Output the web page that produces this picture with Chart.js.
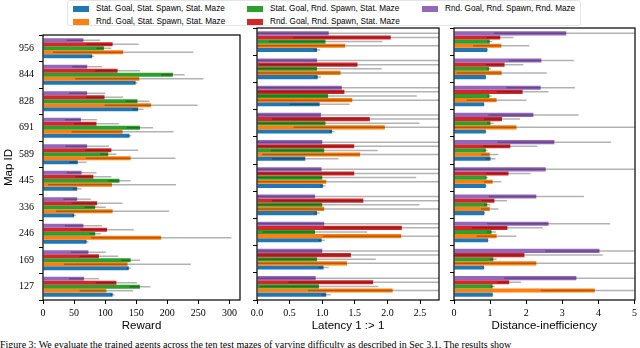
<!DOCTYPE html>
<html>
<head>
<meta charset="utf-8">
<script src="https://cdn.jsdelivr.net/npm/chart.js@4/dist/chart.umd.min.js"></script>
<style>
  body { margin: 0; width: 640px; height: 348px; overflow: hidden; position: relative; background: #fff;
         font-family: 'Liberation Sans', sans-serif; color: #000; }
  .panel { position: absolute; top: 24px; }
  #legend { position: absolute; left: 67px; top: 0px; width: 514px; height: 26px;
            border: 1px solid #e4e4e4; border-radius: 3px; box-sizing: border-box; }
  .item { position: absolute; font-size: 8.2px; line-height: 9px; white-space: nowrap; }
  .item span { display: inline-block; width: 16px; height: 6px; vertical-align: -0.5px; margin-right: 7px; }
  #caption { position: absolute; left: 0; top: 339px; width: 640px; font-family: 'Liberation Serif', serif;
             font-size: 10px; line-height: 12px; white-space: nowrap; overflow: hidden; }
</style>
</head>
<body>
<div id="legend"></div>
<div class="panel" style="left:0px"><canvas id="chartReward" width="244" height="312"></canvas></div>
<div class="panel" style="left:247px"><canvas id="chartLatency" width="196" height="312"></canvas></div>
<div class="panel" style="left:444px"><canvas id="chartDistance" width="196" height="312"></canvas></div>
<div id="caption">Figure 3: We evaluate the trained agents across the ten test mazes of varying difficulty as described in Sec 3.1. The results show</div>
<script>
// map ids, top to bottom
const mapIds = ['956', '844', '828', '691', '589', '445', '336', '246', '169', '127'];

// legend order
const seriesNames = [
    'Stat. Goal, Stat. Spawn, Stat. Maze',
    'Rnd. Goal, Stat. Spawn, Stat. Maze',
    'Stat. Goal, Rnd. Spawn, Stat. Maze',
    'Rnd. Goal, Rnd. Spawn, Stat. Maze',
    'Rnd. Goal, Rnd. Spawn, Rnd. Maze'
];
const seriesColors = ['#1f77b4', '#ff7f0e', '#2ca02c', '#d62728', '#9467bd'];

// Reward
const rewardSSS    = [79, 149, 153, 139, 56, 55, 50, 70, 138, 112];
const rewardSSSErr = [3, 3, 9, 3, 14, 7, 3, 3, 3, 3];
const rewardRSS    = [129, 155, 174, 128, 141, 111, 112, 190, 136, 102];
const rewardRSSErr = [113, 103, 75, 82, 72, 103, 91, 113, 102, 43];
const rewardSRS    = [98, 209, 152, 156, 105, 123, 84, 84, 141, 156];
const rewardSRSErr = [12, 19, 19, 21, 13, 18, 17, 9, 15, 17];
const rewardRRS    = [112, 120, 99, 86, 110, 81, 87, 103, 90, 118];
const rewardRRSErr = [42, 36, 30, 36, 43, 29, 41, 43, 31, 33];
const rewardRRR    = [65, 71, 71, 61, 71, 62, 55, 65, 73, 66];
const rewardRRRErr = [27, 24, 29, 26, 35, 24, 22, 30, 28, 24];

// Latency 1 :> 1
const latencySSS    = [0.92, 0.93, 0.96, 1.15, 0.74, 1.01, 0.92, 0.99, 1.02, 1.06];
const latencySSSErr = [0.05, 0.05, 0.46, 0.04, 0.51, 0.04, 0.04, 0.05, 0.08, 0.07];
const latencyRSS    = [1.35, 1.28, 1.46, 1.96, 1.58, 1.06, 1.03, 2.21, 1.38, 2.08];
const latencyRSSErr = [1.6, 1.7, 1.5, 1.4, 1.5, 1.9, 1.9, 1.2, 1.6, 1.3];
const latencySRS    = [1.05, 0.92, 1.09, 1.05, 1.03, 1.00, 1.00, 0.89, 0.92, 0.95];
const latencySRSErr = [0.87, 0.99, 1.36, 1.44, 0.82, 1.44, 1.49, 0.80, 0.90, 0.91];
const latencyRRS    = [2.05, 1.54, 1.34, 1.73, 1.49, 1.49, 1.63, 2.22, 1.44, 1.78];
const latencyRRSErr = [1.5, 1.5, 1.6, 1.5, 1.5, 1.5, 1.4, 1.2, 1.5, 1.3];
const latencyRRR    = [1.10, 0.92, 1.30, 0.98, 1.00, 0.99, 0.89, 1.03, 1.00, 0.90];
const latencyRRRErr = [2.0, 2.0, 1.6, 2.0, 2.0, 2.0, 2.0, 1.9, 2.0, 2.0];

// Distance-inefficiency
const distanceSSS    = [0.92, 0.88, 0.83, 0.88, 1.01, 0.88, 0.84, 0.94, 0.83, 1.07];
const distanceSSSErr = [0.02, 0.02, 0.02, 0.02, 0.14, 0.02, 0.02, 0.02, 0.02, 0.02];
const distanceRSS    = [1.31, 1.32, 1.18, 1.73, 0.99, 1.07, 0.99, 1.18, 2.28, 3.90];
const distanceRSSErr = [0.78, 1.25, 0.83, 3.5, 0.24, 0.24, 0.24, 0.55, 3.0, 1.5];
const distanceSRS    = [0.99, 0.97, 0.98, 1.01, 0.88, 0.90, 0.92, 1.04, 1.09, 1.07];
const distanceSRSErr = [0.07, 0.05, 0.06, 0.09, 0.05, 0.04, 0.09, 0.12, 0.09, 0.06];
const distanceRRS    = [1.28, 1.40, 1.90, 1.33, 1.56, 1.51, 1.12, 1.48, 1.95, 1.53];
const distanceRRSErr = [0.37, 0.52, 0.72, 0.50, 0.75, 0.61, 0.35, 0.98, 2.17, 0.33];
const distanceRRR    = [3.11, 2.42, 2.40, 2.20, 2.78, 2.54, 2.28, 2.62, 4.03, 3.39];
const distanceRRRErr = [2.0, 0.90, 0.95, 1.25, 1.57, 2.6, 1.32, 1.70, 1.5, 2.0];

// gray error lines, no caps
const errorBars = {
    id: 'errorBars',
    afterDatasetsDraw(chart) {
        const ctx = chart.ctx, area = chart.chartArea, xs = chart.scales.x;
        ctx.save();
        ctx.beginPath();
        ctx.rect(area.left, area.top, area.right - area.left, area.bottom - area.top);
        ctx.clip();
        ctx.strokeStyle = 'rgba(0,0,0,0.3)';
        ctx.lineWidth = 1.5;
        chart.data.datasets.forEach((ds, i) => {
            chart.getDatasetMeta(i).data.forEach((bar, j) => {
                const v = ds.data[j], e = ds.errors[j];
                ctx.beginPath();
                ctx.moveTo(xs.getPixelForValue(v - e), bar.y);
                ctx.lineTo(xs.getPixelForValue(v + e), bar.y);
                ctx.stroke();
            });
        });
        ctx.restore();
    }
};

// black box around the plot
const frame = {
    id: 'frame',
    afterDraw(chart) {
        const ctx = chart.ctx, a = chart.chartArea;
        ctx.save();
        ctx.strokeStyle = '#000';
        ctx.lineWidth = 1.2;
        ctx.strokeRect(Math.round(a.left), Math.round(a.top), Math.round(a.right - a.left), Math.round(a.bottom - a.top));
        ctx.restore();
    }
};

function generarPanel(idCanvas, means, errs, xMax, step, decimals, title, showY) {
    // drawn top to bottom inside each group: purple, red, green, orange, blue
    const order = [4, 3, 2, 1, 0];
    const datasets = order.map(k => ({
        label: seriesNames[k],
        data: means[k],
        errors: errs[k],
        backgroundColor: seriesColors[k],
        borderWidth: 0,
        categoryPercentage: 0.76,
        barPercentage: 1.0
    }));

    new Chart(document.getElementById(idCanvas), {
        type: 'bar',
        data: { labels: mapIds, datasets: datasets },
        options: {
            indexAxis: 'y',
            responsive: false,
            animation: false,
            layout: { padding: { top: 4, right: 4, left: 0, bottom: 0 } },
            plugins: { legend: { display: false }, tooltip: { enabled: false } },
            scales: {
                x: {
                    min: 0,
                    max: xMax,
                    ticks: {
                        stepSize: step,
                        includeBounds: false,
                        maxRotation: 0,
                        padding: 3,
                        color: '#000',
                        font: { family: 'Liberation Serif', size: 10 },
                        callback: v => Number(v).toFixed(decimals)
                    },
                    grid: { drawOnChartArea: false, drawTicks: true, tickLength: 4, color: '#000' },
                    border: { display: false },
                    title: {
                        display: true,
                        text: title,
                        color: '#000',
                        font: { family: 'Liberation Sans', size: 11.5 },
                        padding: { top: 0, bottom: 3 }
                    },
                    afterFit: s => { s.height = 36; }
                },
                y: {
                    ticks: {
                        display: showY,
                        padding: 5,
                        color: '#000',
                        font: { family: 'Liberation Serif', size: 10 }
                    },
                    grid: { drawOnChartArea: false, drawTicks: true, tickLength: 4, color: '#000' },
                    border: { display: false },
                    title: {
                        display: showY,
                        text: 'Map ID',
                        color: '#000',
                        font: { family: 'Liberation Sans', size: 11.5 },
                        padding: { top: 2, bottom: 0 }
                    },
                    afterFit: s => { s.width = showY ? 43 : 10; }
                }
            }
        },
        plugins: [errorBars, frame]
    });
}

function generarLeyenda() {
    const pos = [[5, 3], [5, 16], [179, 3], [179, 16], [354, 3]];
    const box = document.getElementById('legend');
    seriesNames.forEach((name, k) => {
        const d = document.createElement('div');
        d.className = 'item';
        d.style.left = pos[k][0] + 'px';
        d.style.top = pos[k][1] + 'px';
        d.innerHTML = '<span style="background:' + seriesColors[k] + '"></span>' + name;
        box.appendChild(d);
    });
}

document.addEventListener('DOMContentLoaded', () => {
    generarLeyenda();
    generarPanel('chartReward',
        [rewardSSS, rewardRSS, rewardSRS, rewardRRS, rewardRRR],
        [rewardSSSErr, rewardRSSErr, rewardSRSErr, rewardRRSErr, rewardRRRErr],
        317, 50, 0, 'Reward', true);
    generarPanel('chartLatency',
        [latencySSS, latencyRSS, latencySRS, latencyRRS, latencyRRR],
        [latencySSSErr, latencyRSSErr, latencySRSErr, latencyRRSErr, latencyRRRErr],
        2.79, 0.5, 1, 'Latency 1 :> 1', false);
    generarPanel('chartDistance',
        [distanceSSS, distanceRSS, distanceSRS, distanceRRS, distanceRRR],
        [distanceSSSErr, distanceRSSErr, distanceSRSErr, distanceRRSErr, distanceRRRErr],
        5, 1, 0, 'Distance-inefficiency', false);
});
</script>
</body>
</html>
